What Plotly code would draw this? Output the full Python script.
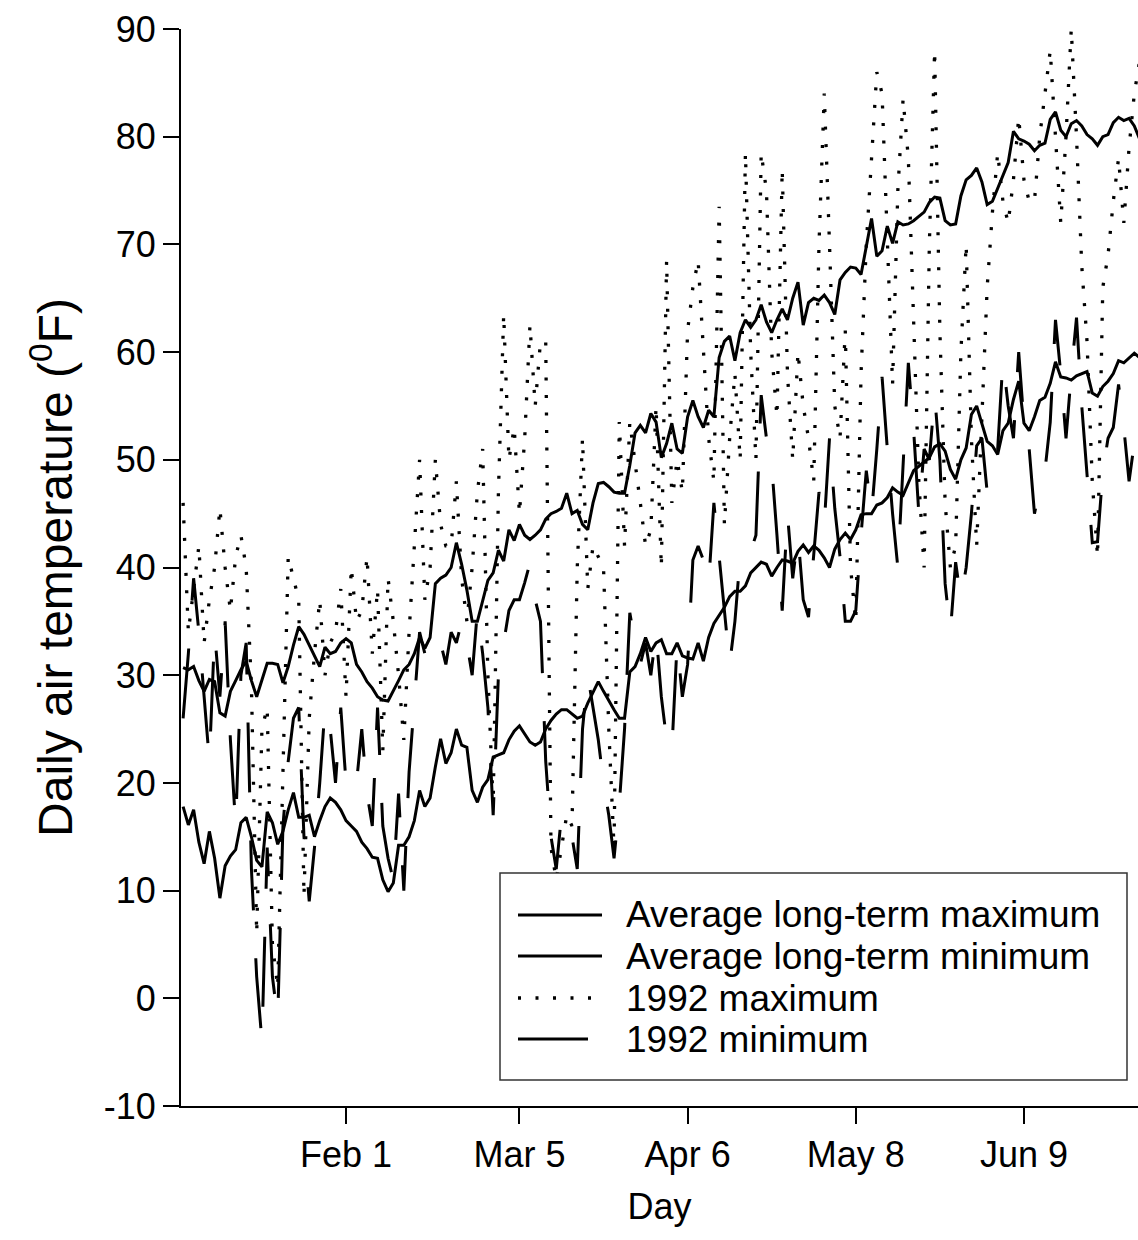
import plotly.graph_objects as go

# Day of year (1992), Jan 1 = 1
days = list(range(1, 184))

avg_max = [
    30.7, 30.5, 30.8, 29.5, 28.5, 29.6, 29.4, 26.5, 26.2, 28.5,
    29.5, 30.5, 31.3, 29.5, 28.0, 29.5, 31.1, 31.1, 31.0, 29.3,
    30.8, 32.8, 34.5, 33.8, 32.8, 31.8, 30.8, 32.6, 32.0, 32.2,
    33.0, 33.4, 33.0, 31.0, 30.3, 29.4, 28.8, 28.0, 27.7, 27.6,
    28.5, 29.5, 30.5, 31.0, 32.0, 33.5, 32.5, 33.5, 38.5, 39.0,
    39.3, 40.0, 42.3, 40.3, 37.9, 35.0, 35.0, 37.0, 38.8, 39.5,
    41.6, 40.6, 43.5, 42.5, 44.0, 43.0, 42.6, 43.0, 43.5, 44.5,
    45.0, 45.2, 45.5, 46.9, 45.0, 45.3, 44.0, 43.5, 46.0, 47.8,
    47.9, 47.5, 47.0, 46.9, 46.9, 49.5, 52.5, 53.2, 52.5, 54.3,
    53.5, 50.2, 51.5, 53.4, 51.0, 50.6, 54.0, 55.5, 54.0, 53.0,
    54.6, 54.0, 59.5, 61.0, 61.5, 59.2, 61.8, 63.0, 62.3, 63.0,
    64.4, 62.8, 61.8, 63.0, 64.0, 63.0, 65.0, 66.5, 62.5, 64.6,
    65.0, 64.8, 65.3, 64.6, 63.5, 66.7, 67.4, 67.9, 67.8, 67.2,
    70.0, 72.4, 68.9, 69.4, 71.7, 70.1, 72.1, 71.8, 71.9, 72.2,
    72.6, 73.0, 73.9, 74.4, 74.3, 72.2, 71.8, 71.9, 74.5, 76.0,
    76.4, 77.1, 75.8, 73.7, 74.0, 75.2, 76.3, 77.6, 80.5, 79.8,
    79.6, 79.3, 78.7, 79.2, 79.4, 81.6, 82.3, 80.6, 80.0, 81.2,
    81.5, 81.0, 80.2, 79.8, 79.2, 80.0, 80.2, 81.3, 81.8, 81.5,
    81.7, 81.0, 79.8,
]

avg_min = [
    17.8, 16.1, 17.5, 14.5, 12.5, 15.5, 13.0, 9.3, 12.3, 13.2,
    13.8, 16.3, 16.8, 15.0, 12.8, 12.2, 17.3, 16.3, 14.3, 15.5,
    17.5, 19.1, 16.8, 16.8, 17.0, 15.0, 16.5, 17.8, 18.6, 18.2,
    17.5, 16.5, 16.0, 15.5, 14.5, 13.9, 13.1, 13.0, 11.0, 9.9,
    10.7, 14.2, 14.2, 15.0, 16.5, 19.3, 17.8, 18.6, 21.5, 24.1,
    21.8, 22.8, 25.0, 23.5, 23.3, 19.3, 18.2, 19.6, 20.3, 22.4,
    22.6, 22.8, 24.0, 24.8, 25.3, 24.6, 23.8, 23.5, 23.8, 25.0,
    25.8, 26.4, 26.8, 26.8, 26.4, 26.0, 26.2, 27.4, 28.4, 29.4,
    28.5, 27.6, 26.8, 26.0, 26.0, 30.3, 30.8, 32.0, 33.5, 32.2,
    33.0, 33.3, 32.0, 32.0, 33.0, 31.8, 31.6, 31.5, 33.0, 31.3,
    33.5, 34.8, 35.6, 36.3, 37.3, 37.8, 37.8, 38.3, 39.5, 40.0,
    40.5, 40.3, 39.2, 40.0, 40.7, 40.6, 40.4, 41.5, 42.1, 41.4,
    42.0, 41.6, 40.9, 40.0, 41.7, 42.6, 43.2, 42.6, 43.5, 44.9,
    45.0, 45.0, 45.8, 46.0, 46.5, 47.4, 47.0, 46.7, 47.8, 49.0,
    49.4, 49.8, 50.2, 51.2, 51.5, 50.8, 49.1, 48.2, 50.0, 51.1,
    54.2, 55.0, 53.3, 51.7, 51.3, 50.5, 52.7, 53.4, 55.6, 57.3,
    53.4, 52.7, 54.0, 55.5, 55.8, 57.1, 59.1, 57.7, 57.6, 57.4,
    57.8, 58.0, 58.2, 56.2, 55.9, 56.8, 57.3, 58.0, 59.2, 59.0,
    59.5, 59.9, 59.5,
]

max_1992 = [
    46, 34, 38, 42, 33, 37, 40, 45.5, 40, 36,
    41, 43, 40, 29, 6, 25, 27, 5, 1, 20,
    41, 39, 37, 9.5, 26, 32, 37, 30, 33, 34,
    38, 28, 40, 35, 36, 41, 32, 38, 23, 39,
    35, 30, 24, 34, 42, 50, 37, 40, 50, 44,
    42, 42, 48, 39, 35, 40, 47, 51, 30, 18,
    47, 63.5, 50, 53, 45, 52, 62.5, 55, 61, 61,
    14, 11, 14, 17, 16, 40, 52, 38, 42, 41,
    40, 25, 14, 53.5, 42, 53.5, 50, 46, 42, 43.5,
    55, 40, 68.5, 46, 50, 47, 62, 66, 68.5, 60,
    52, 48, 73.5, 44, 52, 58, 50, 78.5, 60, 50,
    78.5, 75, 60, 54, 77, 58, 50, 60, 55, 52,
    48, 70, 84, 70, 55, 52, 62, 40, 35, 58,
    70, 78, 86, 84, 70, 57, 75, 83.5, 78, 64,
    48, 40, 70, 88, 62, 46, 40, 42, 60, 70,
    52, 42, 55, 66, 73, 78.5, 74, 72, 76, 81.8,
    76, 74, 74, 80, 84, 88, 80, 72, 80, 90,
    80, 68, 61, 48, 41, 66, 69, 74, 78, 72,
    79, 84, 87,
]

min_1992 = [
    26, 32, 39, 34, 28, 22, 34, 28, 35, 24,
    16, 30, 33, 12, 2, -4, 14, 2, -2, 16,
    22, 26, 27, 15, 9, 14, 20, 27, 25, 20,
    27, 20, 19, 20, 25, 19, 16, 27, 16, 13,
    11, 19, 10, 21, 27.5, 34, 32, 32, 34, 33,
    31, 34, 33, 35, 33, 30, 36, 32, 27, 17,
    30, 33, 36, 37, 37, 38.6, 40.4, 37, 35, 22,
    15, 12, 17, 17, 15, 12, 25, 30, 27, 24,
    20, 17, 13, 18, 25, 35.8, 33, 31, 33, 30,
    34, 28, 24, 23, 33, 28, 31, 40.7, 42, 40.7,
    38.5, 46, 41, 36, 31, 35, 41, 41.5, 41.5, 43,
    56, 52, 49.5, 43, 36, 45, 39, 43, 37, 35.4,
    41.6, 47, 44, 52, 45.5, 41, 35, 35, 36, 43,
    49, 45, 51, 57.7, 51, 45, 40, 49, 59, 52.8,
    45, 51, 50, 56, 50, 38.5, 34, 40.5, 37, 40,
    45, 51.3, 52, 47, 48.6, 51, 59.3, 55, 52, 60,
    53.4, 51, 45, 47.4, 49, 53.5, 63, 58, 52, 58,
    63.2, 55, 49, 42.3, 42.4, 48.9, 52, 53, 57, 53,
    48, 51.6, 50,
]

tick_days = [32, 65, 97, 129, 161]
tick_text = ["Feb 1", "Mar 5", "Apr 6", "May 8", "Jun 9"]

temp_ticks = [-10, 0, 10, 20, 30, 40, 50, 60, 70, 80, 90]
temp_text = ["-10", "0", "10", "20", "30", "40", "50", "60", "70", "80", "90"]

series_names = [
    "Average long-term maximum",
    "Average long-term minimum",
    "1992 maximum",
    "1992 minimum",
]

FONT = "Liberation Sans, Arial, Helvetica, sans-serif"
DOT = "3px,14.5px"
LONGDASH = "70px,48px"

fig = go.Figure()
fig.add_trace(go.Scatter(x=days, y=max_1992, mode="lines", name=series_names[2],
                         line=dict(color="black", width=3.3, dash=DOT)))
fig.add_trace(go.Scatter(x=days, y=min_1992, mode="lines", name=series_names[3],
                         line=dict(color="black", width=3, dash=LONGDASH)))
fig.add_trace(go.Scatter(x=days, y=avg_max, mode="lines", name=series_names[0],
                         line=dict(color="black", width=3)))
fig.add_trace(go.Scatter(x=days, y=avg_min, mode="lines", name=series_names[1],
                         line=dict(color="black", width=3)))

# Hand-drawn legend box in the lower right of the plot area
def px_x(p):
    return (p - 181) / 957.0

def px_y(p):
    return (1106 - p) / 1077.0

shapes = [dict(type="rect", xref="paper", yref="paper",
               x0=px_x(500), x1=px_x(1127), y0=px_y(1080), y1=px_y(873),
               line=dict(color="#333333", width=1.5), fillcolor="white", layer="above")]
row_y = [915, 956, 998, 1039]
row_dash = ["solid", "solid", DOT, LONGDASH]
row_w = [3, 3, 3.3, 3]
annotations = []
for name, yy, dsh, w in zip(series_names, row_y, row_dash, row_w):
    shapes.append(dict(type="line", xref="paper", yref="paper",
                       x0=px_x(518), x1=px_x(602), y0=px_y(yy), y1=px_y(yy),
                       line=dict(color="black", width=w, dash=dsh), layer="above"))
    annotations.append(dict(text=name, xref="paper", yref="paper",
                            x=px_x(624), y=px_y(yy), xanchor="left", yanchor="middle",
                            showarrow=False, font=dict(size=37, color="black", family=FONT)))

fig.update_layout(
    width=1138, height=1240,
    margin=dict(l=181, r=0, t=29, b=134),
    plot_bgcolor="white", paper_bgcolor="white",
    showlegend=False,
    font=dict(family=FONT, color="black"),
    shapes=shapes,
    annotations=annotations,
)
fig.update_xaxes(
    range=[0.6, 182.7], tickvals=tick_days, ticktext=tick_text,
    ticks="outside", ticklen=16, tickwidth=2, tickcolor="black",
    showline=True, linewidth=2, linecolor="black",
    showgrid=False, zeroline=False,
    tickfont=dict(size=36, family=FONT, color="black"),
    title=dict(text="Day", font=dict(size=36, family=FONT, color="black"), standoff=20),
)
fig.update_yaxes(
    range=[-10, 90], tickvals=temp_ticks, ticktext=temp_text,
    ticks="outside", ticklen=16, tickwidth=2, tickcolor="black",
    showline=True, linewidth=2, linecolor="black",
    showgrid=False, zeroline=False,
    tickfont=dict(size=36, family=FONT, color="black"),
    title=dict(text="Daily air temperature (<sup>0</sup>F)",
               font=dict(size=48, family=FONT, color="black"), standoff=16),
)

fig.write_html("out.html")
